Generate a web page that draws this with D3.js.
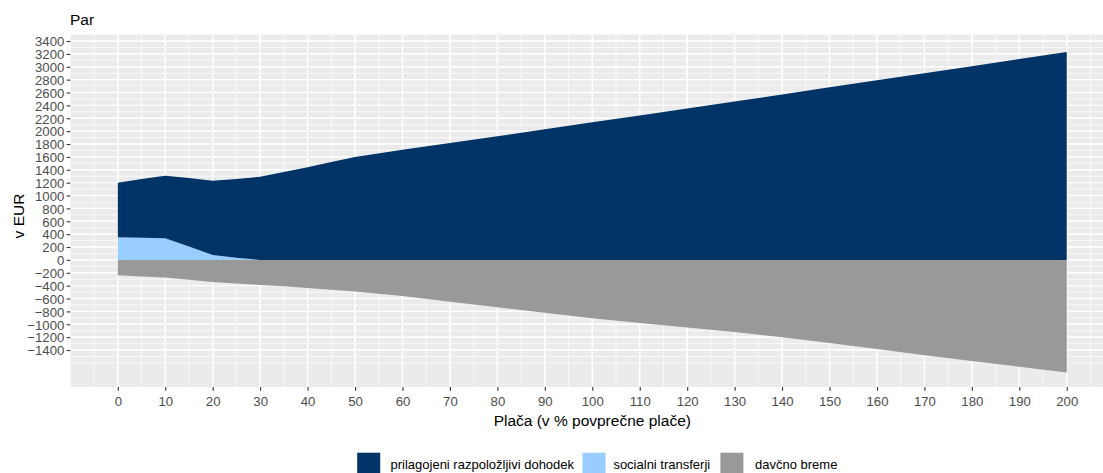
<!DOCTYPE html>
<html>
<head>
<meta charset="utf-8">
<script src="https://cdn.jsdelivr.net/npm/d3@7"></script>
<style>
  html, body { margin: 0; padding: 0; background: #fff; }
  svg { display: block; font-family: "Liberation Sans", Arial, sans-serif; }
</style>
</head>
<body>
<svg id="chart" width="1103" height="473"></svg>
<script>
// ---- data ----
const placa = [0, 5, 10, 15, 20, 25, 30, 35, 40, 45, 50, 60, 70, 80, 90, 100, 110, 120, 130, 140, 150, 160, 170, 180, 190, 200];
const dohodek = [848, 912, 972, 1066, 1152, 1225, 1292, 1365, 1438, 1520, 1600, 1710, 1815, 1920, 2030, 2140, 2245, 2350, 2460, 2570, 2680, 2790, 2900, 3010, 3120, 3228];
const transferji = [352, 345, 336, 207, 78, 32, 0, 0, 0, 0, 0, 0, 0, 0, 0, 0, 0, 0, 0, 0, 0, 0, 0, 0, 0, 0];
const breme = [-240, -258, -275, -310, -345, -365, -388, -410, -435, -462, -490, -560, -650, -735, -820, -905, -980, -1050, -1120, -1200, -1290, -1385, -1480, -1570, -1660, -1750];

const seriesNames = ["prilagojeni razpoložljivi dohodek", "socialni transferji", "davčno breme"];
const seriesColors = ["#003366", "#99CCFF", "#999999"];
const yTicks = d3.range(-1400, 3401, 200);
const xTicks = d3.range(0, 201, 10);
const title = "Par";
const xTitle = "Plača (v % povprečne plače)";
const yTitle = "v EUR";

// ---- layout ----
const svg = d3.select("#chart");
const panel = { left: 70.35, right: 1114.2, top: 34, bottom: 387 };

const x = d3.scaleLinear().domain([-10, 210]).range([panel.left, panel.right]);
const y = d3.scaleLinear().domain([-1974, 3509]).range([panel.bottom, panel.top]);

svg.append("defs").append("clipPath").attr("id", "clip")
  .append("rect").attr("x", panel.left).attr("y", panel.top)
  .attr("width", panel.right - panel.left).attr("height", panel.bottom - panel.top);

// panel background
svg.append("rect").attr("x", panel.left).attr("y", panel.top)
  .attr("width", panel.right - panel.left).attr("height", panel.bottom - panel.top)
  .attr("fill", "#EBEBEB");

const grid = svg.append("g").attr("clip-path", "url(#clip)");
// minor grid
grid.selectAll(".ymin").data(d3.range(-1600, 3601, 100)).join("line")
  .attr("x1", panel.left).attr("x2", panel.right)
  .attr("y1", d => y(d)).attr("y2", d => y(d))
  .attr("stroke", "#fff").attr("stroke-width", 0.7);
grid.selectAll(".xmin").data(d3.range(-10, 211, 5)).join("line")
  .attr("y1", panel.top).attr("y2", panel.bottom)
  .attr("x1", d => x(d)).attr("x2", d => x(d))
  .attr("stroke", "#fff").attr("stroke-width", 0.7);
// major grid
grid.selectAll(".ymaj").data(yTicks).join("line")
  .attr("x1", panel.left).attr("x2", panel.right)
  .attr("y1", d => y(d)).attr("y2", d => y(d))
  .attr("stroke", "#fff").attr("stroke-width", 1.4);
grid.selectAll(".xmaj").data(xTicks).join("line")
  .attr("y1", panel.top).attr("y2", panel.bottom)
  .attr("x1", d => x(d)).attr("x2", d => x(d))
  .attr("stroke", "#fff").attr("stroke-width", 1.4);

// ---- stacked areas ----
const rows = placa.map((p, i) => ({ p, doh: dohodek[i], tr: transferji[i], br: breme[i] }));
const plot = svg.append("g").attr("clip-path", "url(#clip)");

plot.append("path").datum(rows)
  .attr("fill", seriesColors[2])
  .attr("d", d3.area().x(d => x(d.p)).y0(() => y(0)).y1(d => y(d.br)));
plot.append("path").datum(rows)
  .attr("fill", seriesColors[1])
  .attr("d", d3.area().x(d => x(d.p)).y0(() => y(0)).y1(d => y(d.tr)));
plot.append("path").datum(rows)
  .attr("fill", seriesColors[0])
  .attr("d", d3.area().x(d => x(d.p)).y0(d => y(d.tr)).y1(d => y(d.tr + d.doh)));

// ---- axes ----
const yAxis = svg.append("g").attr("transform", `translate(${panel.left},0)`)
  .call(d3.axisLeft(y).tickValues(yTicks).tickSize(3.7).tickPadding(2.3).tickFormat(d3.format("d")));
const xAxis = svg.append("g").attr("transform", `translate(0,${panel.bottom})`)
  .call(d3.axisBottom(x).tickValues(xTicks).tickSize(3.7).tickPadding(3).tickFormat(d3.format("d")));
[yAxis, xAxis].forEach(a => {
  a.select(".domain").remove();
  a.selectAll(".tick line").attr("stroke", "#333333").attr("stroke-width", 1.1);
  a.selectAll(".tick text").attr("fill", "#4D4D4D").style("font-size", "13.2px")
    .style("font-family", "'Liberation Sans', Arial, sans-serif");
});
yAxis.selectAll(".tick text").attr("dy", "0.36em");
xAxis.selectAll(".tick text").attr("dy", "0.93em");

// ---- titles ----
svg.append("text").attr("x", 70).attr("y", 25).text(title)
  .attr("fill", "#000").style("font-size", "15.5px");
svg.append("text").attr("x", (panel.left + panel.right) / 2).attr("y", 425.5)
  .attr("text-anchor", "middle").text(xTitle)
  .attr("fill", "#000").style("font-size", "15.5px");
svg.append("text")
  .attr("transform", `translate(23.5,216) rotate(-90)`)
  .attr("text-anchor", "middle").text(yTitle)
  .attr("fill", "#000").style("font-size", "15.5px");

// ---- legend ----
const legendItems = [
  { name: seriesNames[0], color: seriesColors[0], kx: 357.2, tx: 390.5 },
  { name: seriesNames[1], color: seriesColors[1], kx: 582.5, tx: 613.4 },
  { name: seriesNames[2], color: seriesColors[2], kx: 720.4, tx: 755 }
];
const lg = svg.append("g");
legendItems.forEach(it => {
  lg.append("rect").attr("x", it.kx).attr("y", 452.7).attr("width", 23).attr("height", 23)
    .attr("fill", it.color);
  lg.append("text").attr("x", it.tx).attr("y", 469).text(it.name)
    .attr("fill", "#000").style("font-size", "13px");
});
</script>
</body>
</html>
